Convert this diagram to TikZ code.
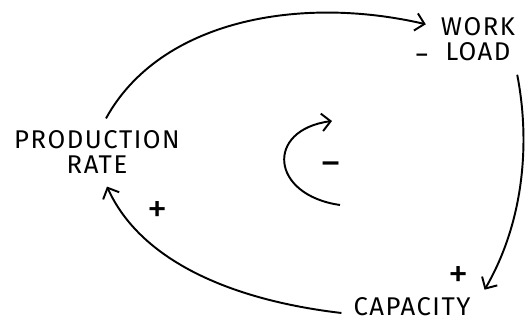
\documentclass[tikz,border=0pt]{standalone}
\usepackage{fontspec}
\setmainfont{Fira Sans}
\usetikzlibrary{arrows.meta}
\begin{document}
\begin{tikzpicture}[
  x=0.02cm, y=-0.02cm,
  vnode/.style={font=\fontsize{14.6}{14.2}\selectfont\addfontfeature{LetterSpace=6}, align=center, inner sep=1pt},
  sgn/.style={font=\fontsize{23}{23}\selectfont, inner sep=0},
  link/.style={line width=1.1pt, -{Straight Barb[length=5pt, width=10pt, line width=1.1pt]}}
]
\useasboundingbox (0,0) rectangle (525,323);
% variables
\node[vnode] (prod) at (97,152) {PRODUCTION\\RATE};
\node[vnode] (load) at (478,39) {WORK\\LOAD};
\node[vnode] (cap) at (412,307) {CAPACITY};
% causal links
\draw[link] ([xshift=0.18cm,yshift=0.2cm]prod.north) .. controls (160,20) and (300,-5) .. ([xshift=-0.26cm,yshift=-0.18cm]load.north west);
\draw[link] ([yshift=-0.24cm]load.south east) .. controls (530,140) and (525,220) .. ([xshift=0.24cm,yshift=0.12cm]cap.north east);
\draw[link] ([xshift=-0.2cm,yshift=-0.12cm]cap.west) .. controls (230,300) and (140,260) .. ([xshift=0.2cm,yshift=-0.22cm]prod.south);
\node[sgn, font=\fontsize{16}{16}\selectfont] (sload) at (422,59) {−};
\node[sgn] (scap) at (459,277) {+};
\node[sgn] (sprod) at (158,212) {+};
% loop polarity
\node[sgn, font=\fontsize{24}{24}\selectfont] (sloop) at (331,170) {−};
\coordinate (la) at (340,205);
\coordinate (lb) at (332,121);
\draw[link] (la) .. controls (270,195) and (265,130) .. (lb);
\end{tikzpicture}
\end{document}
